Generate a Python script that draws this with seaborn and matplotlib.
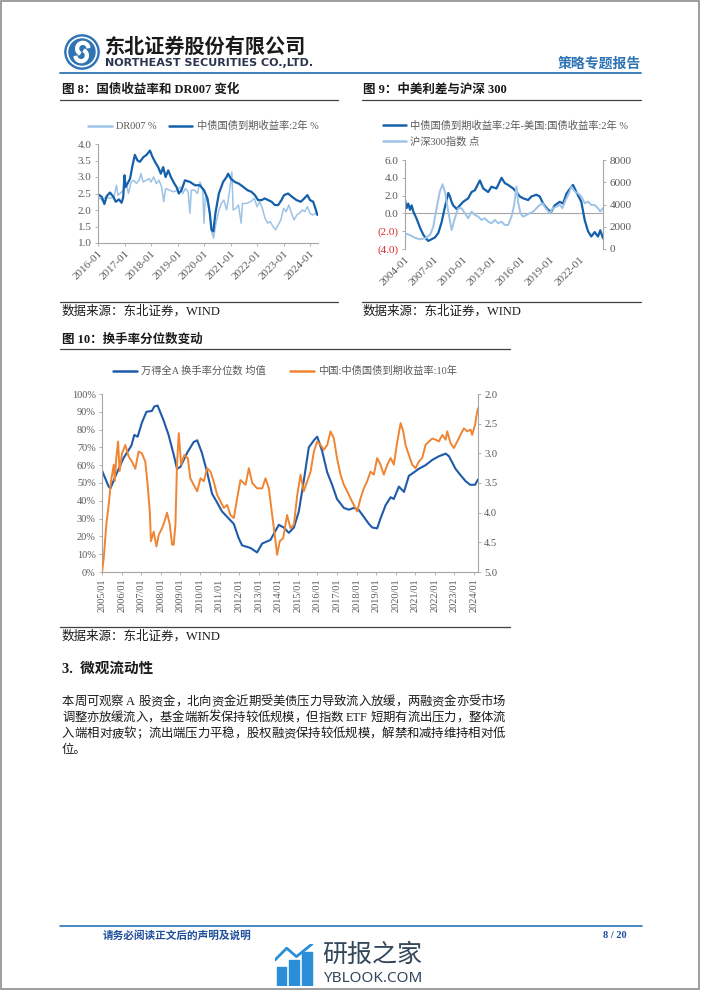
import re
import matplotlib
matplotlib.use("Agg")
import matplotlib.pyplot as plt
import seaborn as sns
from matplotlib.lines import Line2D
from matplotlib.patches import Circle, Rectangle, Wedge

# ---- figure 8: DR007 and 2y CGB yield (%)
dr007_year = [2016.0, 2016.15, 2016.3, 2016.45, 2016.6, 2016.7, 2016.75, 2016.9, 2017.0, 2017.08,
              2017.15, 2017.25, 2017.35, 2017.45, 2017.55, 2017.62, 2017.7, 2017.82, 2017.92, 2018.0,
              2018.1, 2018.2, 2018.3, 2018.4, 2018.48, 2018.55, 2018.7, 2018.85, 2019.0, 2019.1,
              2019.2, 2019.3, 2019.4, 2019.47, 2019.52, 2019.65, 2019.75, 2019.85, 2019.95, 2020.0,
              2020.05, 2020.15, 2020.22, 2020.3, 2020.36, 2020.45, 2020.55, 2020.65, 2020.75, 2020.85,
              2020.95, 2021.05, 2021.1, 2021.2, 2021.3, 2021.4, 2021.45, 2021.6, 2021.75, 2021.9,
              2022.0, 2022.1, 2022.2, 2022.3, 2022.4, 2022.5, 2022.6, 2022.7, 2022.8, 2022.9,
              2023.0, 2023.1, 2023.2, 2023.3, 2023.4, 2023.5, 2023.6, 2023.7, 2023.8, 2023.9,
              2024.0, 2024.1, 2024.2, 2024.28]
dr007_pct = [2.4, 2.3, 2.4, 2.35, 2.4, 2.75, 2.45, 2.55, 2.65, 2.75,
             2.5, 2.85, 2.9, 2.8, 2.9, 3.1, 2.85, 2.9, 2.95, 2.85,
             3.0, 2.8, 2.9, 2.7, 2.25, 2.65, 2.6, 2.55, 2.6, 2.7,
             2.5, 2.65, 2.55, 1.9, 2.6, 2.6, 2.5, 2.85, 2.6, 1.6,
             2.4, 2.2, 1.8, 1.3, 1.15, 1.6, 1.95, 2.2, 2.3, 2.0,
             2.5, 3.15, 2.0, 2.05, 2.15, 1.6, 2.2, 2.2, 2.25, 2.35,
             2.1, 2.25, 2.05, 1.75, 1.6, 1.65, 1.5, 1.4, 1.55, 1.7,
             2.05, 1.95, 2.15, 1.9, 1.7, 1.85, 1.9, 2.0, 1.95, 2.1,
             1.9, 1.85, 1.9, 1.85]
cgb2y_year = [2016.0, 2016.14, 2016.24, 2016.33, 2016.45, 2016.58, 2016.67, 2016.79, 2016.89, 2016.95,
              2017.0, 2017.04, 2017.08, 2017.21, 2017.29, 2017.39, 2017.49, 2017.58, 2017.71, 2017.83,
              2017.96, 2018.05, 2018.15, 2018.27, 2018.37, 2018.46, 2018.55, 2018.65, 2018.75, 2018.88,
              2018.96, 2019.05, 2019.15, 2019.28, 2019.47, 2019.66, 2019.84, 2020.0, 2020.13, 2020.22,
              2020.28, 2020.35, 2020.43, 2020.56, 2020.72, 2020.85, 2020.91, 2021.01, 2021.16, 2021.31,
              2021.48, 2021.64, 2021.79, 2021.92, 2022.04, 2022.17, 2022.29, 2022.42, 2022.55, 2022.67,
              2022.8, 2022.92, 2023.02, 2023.17, 2023.32, 2023.49, 2023.65, 2023.78, 2023.9, 2024.0,
              2024.12, 2024.2, 2024.28]
cgb2y_pct = [2.48, 2.4, 2.18, 2.42, 2.53, 2.4, 2.25, 2.32, 2.22, 2.38,
             3.05, 2.7, 2.75, 2.95, 3.3, 3.67, 3.5, 3.46, 3.6, 3.67,
             3.8, 3.62, 3.46, 3.3, 3.1, 3.3, 3.0, 3.2, 3.0, 2.8,
             2.7, 2.5, 2.6, 2.9, 2.85, 2.75, 2.75, 2.6, 2.35, 1.9,
             1.4, 1.35, 1.9, 2.5, 2.85, 3.0, 3.1, 2.95, 2.85, 2.8,
             2.7, 2.6, 2.55, 2.45, 2.3, 2.3, 2.35, 2.3, 2.25, 2.15,
             2.15, 2.3, 2.45, 2.5, 2.4, 2.3, 2.25, 2.35, 2.45, 2.3,
             2.25, 2.05, 1.85]

# ---- figure 9: China-US 2y spread (%) and CSI 300 (points)
spread_year = [2004.0, 2004.17, 2004.34, 2004.52, 2004.69, 2004.86, 2005.2, 2005.55, 2005.89, 2006.16,
               2006.4, 2006.75, 2007.09, 2007.44, 2007.78, 2008.12, 2008.47, 2008.64, 2008.81, 2008.98,
               2009.33, 2009.67, 2010.01, 2010.53, 2010.87, 2011.22, 2011.73, 2012.08, 2012.59, 2012.93,
               2013.45, 2013.97, 2014.31, 2014.65, 2015.17, 2015.51, 2015.86, 2016.2, 2016.71, 2017.06,
               2017.57, 2017.92, 2018.26, 2018.78, 2019.12, 2019.46, 2019.98, 2020.32, 2020.67, 2021.18,
               2021.35, 2021.7, 2022.21, 2022.56, 2022.9, 2023.24, 2023.59, 2023.93, 2024.17, 2024.45]
spread_pct = [1.5, 0.6, 1.1, 0.4, 0.9, 0.2, -0.6, -1.6, -2.4, -2.8,
              -3.1, -2.9, -2.7, -2.2, -1.0, 0.7, 2.3, 1.9, 1.3, 0.9,
              0.5, 0.9, 1.3, 1.7, 2.4, 2.6, 3.7, 2.8, 2.4, 3.0,
              2.8, 4.0, 3.4, 3.2, 2.8, 2.4, 1.9, 1.7, 1.5, 1.9,
              2.1, 1.9, 1.1, 0.4, 0.2, 0.9, 1.3, 1.1, 2.2, 3.0,
              3.2, 2.4, 1.3, -0.75, -2.0, -2.6, -2.1, -2.6, -1.9, -2.8]
csi300_year = [2004.0, 2004.5, 2005.0, 2005.55, 2006.06, 2006.58, 2006.92, 2007.26, 2007.6, 2007.88,
               2008.12, 2008.47, 2008.81, 2009.15, 2009.5, 2009.84, 2010.19, 2010.53, 2010.87, 2011.22,
               2011.56, 2011.9, 2012.25, 2012.59, 2012.93, 2013.28, 2013.62, 2013.97, 2014.31, 2014.65,
               2015.0, 2015.27, 2015.51, 2015.68, 2015.92, 2016.2, 2016.54, 2016.89, 2017.23, 2017.57,
               2017.92, 2018.19, 2018.54, 2018.95, 2019.29, 2019.64, 2019.98, 2020.25, 2020.6, 2020.94,
               2021.18, 2021.53, 2021.87, 2022.21, 2022.56, 2022.9, 2023.24, 2023.59, 2023.93, 2024.17,
               2024.45]
csi300_pts = [1400, 1260, 1020, 870, 960, 1260, 2000, 3660, 5160, 5820,
              5160, 3360, 1710, 2760, 3660, 3660, 3210, 2760, 3360, 3060,
              2910, 2610, 2760, 2460, 2310, 2610, 2310, 2460, 2160, 2160,
              2910, 3960, 5610, 4260, 3210, 2910, 3060, 3210, 3360, 3660,
              3960, 4110, 3660, 3210, 3660, 3810, 3960, 3660, 4410, 5010,
              5610, 5160, 5010, 4710, 4110, 4260, 3960, 3960, 3660, 3360,
              3660]

# ---- figure 10: turnover percentile (%) and 10y CGB yield (%)
turnover_year = [2005.0, 2005.34, 2005.43, 2005.77, 2006.1, 2006.5, 2006.65, 2006.82, 2007.04, 2007.27,
                 2007.55, 2007.67, 2007.84, 2008.15, 2008.4, 2008.66, 2008.83, 2009.0, 2009.35, 2009.68,
                 2009.86, 2010.1, 2010.37, 2010.62, 2010.88, 2011.13, 2011.39, 2011.73, 2011.98, 2012.15,
                 2012.58, 2012.92, 2013.18, 2013.6, 2014.03, 2014.28, 2014.54, 2014.8, 2015.05, 2015.3,
                 2015.56, 2015.82, 2015.99, 2016.24, 2016.5, 2016.75, 2017.0, 2017.35, 2017.6, 2017.86,
                 2018.1, 2018.37, 2018.63, 2018.8, 2019.05, 2019.22, 2019.48, 2019.74, 2019.9, 2020.16,
                 2020.42, 2020.67, 2020.93, 2021.18, 2021.52, 2021.87, 2022.2, 2022.55, 2022.72, 2023.05,
                 2023.3, 2023.57, 2023.8, 2024.05, 2024.2]
turnover_pct = [57, 48, 47, 56, 64, 71, 77, 76, 84, 90,
                90.5, 93, 93.5, 85, 77, 66, 58, 59, 67, 73,
                74, 67, 56, 44, 39, 34, 31, 27, 19, 15,
                13.5, 11, 16, 18, 26.5, 25, 22, 25, 34, 51,
                70, 74, 76, 68, 56, 49, 41, 36, 35, 36,
                35, 31, 27, 25, 24.5, 30, 37.5, 42, 41, 48,
                45, 54, 56, 58, 60, 63, 65, 66.5, 65, 58,
                54.5, 51, 49, 49, 52]
cgb10y_year = [2005.0, 2005.09, 2005.22, 2005.34, 2005.46, 2005.6, 2005.65, 2005.73, 2005.82, 2005.9,
               2006.02, 2006.19, 2006.36, 2006.53, 2006.7, 2006.87, 2007.04, 2007.21, 2007.33, 2007.44,
               2007.5, 2007.64, 2007.78, 2007.9, 2008.07, 2008.19, 2008.32, 2008.46, 2008.58, 2008.66,
               2008.75, 2008.83, 2008.92, 2009.04, 2009.2, 2009.38, 2009.51, 2009.68, 2009.86, 2010.03,
               2010.2, 2010.37, 2010.54, 2010.7, 2010.88, 2011.05, 2011.22, 2011.39, 2011.56, 2011.73,
               2011.9, 2012.07, 2012.33, 2012.5, 2012.67, 2012.92, 2013.18, 2013.35, 2013.52, 2013.69,
               2013.86, 2013.94, 2014.08, 2014.25, 2014.45, 2014.62, 2014.8, 2014.97, 2015.14, 2015.3,
               2015.48, 2015.65, 2015.82, 2015.99, 2016.16, 2016.33, 2016.5, 2016.67, 2016.84, 2017.0,
               2017.18, 2017.35, 2017.52, 2017.69, 2017.86, 2018.03, 2018.2, 2018.37, 2018.54, 2018.71,
               2018.88, 2019.05, 2019.22, 2019.39, 2019.57, 2019.74, 2019.9, 2020.08, 2020.25, 2020.38,
               2020.5, 2020.67, 2020.84, 2021.01, 2021.18, 2021.35, 2021.52, 2021.7, 2021.87, 2022.04,
               2022.2, 2022.38, 2022.55, 2022.63, 2022.8, 2022.97, 2023.14, 2023.3, 2023.48, 2023.65,
               2023.82, 2023.9, 2024.05, 2024.13, 2024.2]
cgb10y_pct = [5.0, 4.76, 4.2, 3.87, 3.47, 3.19, 3.47, 3.08, 2.8, 3.3,
              3.0, 2.86, 3.05, 3.14, 3.26, 2.97, 3.0, 3.14, 3.53, 3.98,
              4.48, 4.32, 4.57, 4.37, 4.26, 4.15, 4.0, 4.2, 4.54, 4.54,
              4.2, 3.19, 2.66, 3.19, 3.03, 3.08, 3.42, 3.53, 3.64, 3.42,
              3.47, 3.25, 3.31, 3.47, 3.7, 3.81, 3.92, 3.87, 4.04, 4.09,
              3.76, 3.45, 3.53, 3.25, 3.5, 3.59, 3.59, 3.42, 3.59, 4.04,
              4.48, 4.71, 4.48, 4.43, 4.04, 4.26, 4.2, 3.7, 3.36, 3.64,
              3.47, 3.31, 2.97, 2.8, 2.86, 2.94, 2.86, 2.63, 2.75, 3.08,
              3.36, 3.53, 3.64, 3.76, 3.87, 3.98, 3.76, 3.59, 3.47, 3.31,
              3.36, 3.08, 3.19, 3.36, 3.19, 3.08, 3.19, 2.8, 2.49, 2.63,
              2.86, 3.03, 3.19, 3.25, 3.14, 3.08, 2.86, 2.8, 2.75, 2.77,
              2.8, 2.69, 2.77, 2.63, 2.83, 2.91, 2.8, 2.69, 2.58, 2.63,
              2.6, 2.69, 2.52, 2.35, 2.24]

para_lines = [
    "本周可观察 A 股资金，北向资金近期受美债压力导致流入放缓，两融资金亦受市场",
    "调整亦放缓流入，基金端新发保持较低规模，但指数 ETF 短期有流出压力，整体流",
    "入端相对疲软；流出端压力平稳，股权融资保持较低规模，解禁和减持维持相对低",
    "位。",
]

W, H = 702, 991
LIGHT = "#9DC3E6"
DARK = "#1560AA"
BLUE10 = "#1F5BA8"
ORANGE = "#EF8533"
GRAY = "#595959"
AXIS = "#A6A6A6"
RED = "#D42A2A"
INK = "#1A1A1A"
CORP = "#2E74B5"


def rect(x0, y0, x1, y1):
    return [x0 / W, 1 - y1 / H, (x1 - x0) / W, (y1 - y0) / H]


def fx(x):
    return x / W


def fy(y):
    return 1 - y / H


def hline(fig, x0, x1, y, color, lw):
    fig.add_artist(Line2D([fx(x0), fx(x1)], [fy(y), fy(y)], color=color, lw=lw,
                          transform=fig.transFigure))


def style_axis(ax, size=8):
    for s in ax.spines.values():
        s.set_color(AXIS)
        s.set_linewidth(0.8)
    ax.tick_params(colors=GRAY, labelsize=size, length=2.5, width=0.6, pad=2)
    ax.tick_params(color=AXIS)
    ax.set_xlabel("")
    ax.set_ylabel("")


def justify(fig, text, x0, x1, y, size):
    # spread tokens evenly between x0 and x1; latin words get a little air around them
    em = size * 100 / 72
    tokens = re.findall(r"[A-Za-z0-9]+|\S", text)
    r = fig.canvas.get_renderer()
    widths = []
    for tok in tokens:
        if ord(tok[0]) > 0x2E80:
            widths.append(em)
        else:
            t = fig.text(0, 0, tok, fontsize=size)
            widths.append(t.get_window_extent(r).width + 0.5 * em)
            t.remove()
    gap = (x1 - x0 - sum(widths)) / (len(tokens) - 1)
    x = x0
    for tok, w in zip(tokens, widths):
        shift = 0 if ord(tok[0]) > 0x2E80 else 0.25 * em
        fig.text(fx(x + shift), fy(y), tok, fontsize=size, color=INK, va="center")
        x += w + gap


sns.set_theme(style="ticks")
plt.rcParams["font.family"] = ["Liberation Serif", "Noto Sans CJK SC"]
plt.rcParams["axes.unicode_minus"] = False

fig = plt.figure(figsize=(W / 100, H / 100), dpi=100)

# ---------------- header
lax = fig.add_axes(rect(63, 34, 101, 70))
lax.set_xlim(-1.05, 1.05)
lax.set_ylim(-1.05, 1.05)
lax.set_aspect("equal")
lax.axis("off")
lax.add_patch(Circle((0, 0), 1.0, color=CORP))
lax.add_patch(Circle((0, 0), 0.86, color="white"))
lax.add_patch(Circle((0, 0), 0.76, color=CORP))
lax.add_patch(Wedge((0.05, 0.2), 0.42, 10, 240, width=0.17, color="white"))
lax.add_patch(Wedge((-0.05, -0.2), 0.42, 190, 60, width=0.17, color="white"))

fig.text(fx(105), fy(46), "东北证券股份有限公司", fontsize=14.5, weight="bold",
         color=INK, va="center", family="Noto Sans CJK SC")
fig.text(fx(105), fy(63), "NORTHEAST SECURITIES CO.,LTD.", fontsize=8, weight="bold",
         color="#2B3550", va="center", family="DejaVu Sans")
fig.text(fx(641), fy(64), "策略专题报告", fontsize=10, weight="bold", color=CORP,
         va="center", ha="right", family="Noto Sans CJK SC")
hline(fig, 60, 641, 73, CORP, 1.3)

# ---------------- titles
fig.text(fx(62), fy(90), "图 8：国债收益率和 DR007 变化", fontsize=9, weight="bold",
         color=INK, va="center")
hline(fig, 60, 338, 100, "#404040", 0.9)
fig.text(fx(363), fy(90), "图 9：中美利差与沪深 300", fontsize=9, weight="bold",
         color=INK, va="center")
hline(fig, 362, 641, 100, "#404040", 0.9)

# ---------------- figure 8
ax8 = fig.add_axes(rect(98, 144, 318, 243))
sns.lineplot(x=dr007_year, y=dr007_pct, ax=ax8, color=LIGHT, linewidth=1.1)
sns.lineplot(x=cgb2y_year, y=cgb2y_pct, ax=ax8, color=DARK, linewidth=1.6)
ax8.set_xlim(2016.0, 2024.3)
ax8.set_ylim(1.0, 4.0)
ax8.set_yticks([1.0, 1.5, 2.0, 2.5, 3.0, 3.5, 4.0])
ax8.set_yticklabels([f"{v:.1f}" for v in [1.0, 1.5, 2.0, 2.5, 3.0, 3.5, 4.0]])
years8 = list(range(2016, 2025))
ax8.set_xticks(years8)
ax8.set_xticklabels([f"{y}-01" for y in years8], rotation=45, ha="right",
                    rotation_mode="anchor")
sns.despine(ax=ax8)
style_axis(ax8)
h8 = [Line2D([], [], color=LIGHT, lw=1.8), Line2D([], [], color=DARK, lw=1.8)]
leg8 = ax8.legend(h8, ["DR007 %", "中债国债到期收益率:2年 %"], ncol=2, loc="center left",
                  bbox_to_anchor=(-0.045, 1.18), frameon=False, fontsize=7.4,
                  handlelength=2.3, handletextpad=0.4, columnspacing=1.2,
                  borderaxespad=0, borderpad=0)
for t in leg8.get_texts():
    t.set_color(GRAY)

# ---------------- figure 9
ax9 = fig.add_axes(rect(405, 160, 603, 249))
ax9.axhline(0, color=AXIS, lw=0.8, zorder=0)
sns.lineplot(x=spread_year, y=spread_pct, ax=ax9, color=DARK, linewidth=1.6)
ax9.set_xlim(2004.0, 2024.45)
ax9.set_ylim(-4, 6)
ticks9 = [-4, -2, 0, 2, 4, 6]
ax9.set_yticks(ticks9)
ax9.set_yticklabels([f"({abs(v):.1f})" if v < 0 else f"{v:.1f}" for v in ticks9])
years9 = list(range(2004, 2023, 3))
ax9.set_xticks(years9)
ax9.set_xticklabels([f"{y}-01" for y in years9], rotation=45, ha="right",
                    rotation_mode="anchor")
style_axis(ax9)
ax9.tick_params(axis="x", length=0, pad=4)
for side in ["top", "right", "bottom"]:
    ax9.spines[side].set_visible(False)
for lbl in ax9.get_yticklabels():
    if lbl.get_text().startswith("("):
        lbl.set_color(RED)

ax9r = ax9.twinx()
sns.lineplot(x=csi300_year, y=csi300_pts, ax=ax9r, color=LIGHT, linewidth=1.4)
ax9r.set_ylim(0, 8000)
ax9r.set_yticks([0, 2000, 4000, 6000, 8000])
style_axis(ax9r)
for side in ["top", "left", "bottom"]:
    ax9r.spines[side].set_visible(False)
h9 = [Line2D([], [], color=DARK, lw=1.8), Line2D([], [], color=LIGHT, lw=1.8)]
leg9 = ax9.legend(h9, ["中债国债到期收益率:2年-美国:国债收益率:2年 %", "沪深300指数 点"],
                  loc="center left", bbox_to_anchor=(-0.111, 1.30), frameon=False,
                  fontsize=7.4, handlelength=2.2, handletextpad=0.4, labelspacing=0.55,
                  borderaxespad=0, borderpad=0)
for t in leg9.get_texts():
    t.set_color(GRAY)

# ---------------- sources (8, 9)
hline(fig, 60, 338, 302, "#404040", 0.9)
fig.text(fx(62), fy(311), "数据来源：东北证券，WIND", fontsize=9, color=INK, va="center")
hline(fig, 362, 641, 302, "#404040", 0.9)
fig.text(fx(363), fy(311), "数据来源：东北证券，WIND", fontsize=9, color=INK, va="center")

# ---------------- figure 10
fig.text(fx(62), fy(340), "图 10：换手率分位数变动", fontsize=9, weight="bold",
         color=INK, va="center")
hline(fig, 60, 510, 349, "#404040", 0.9)

ax10 = fig.add_axes(rect(102, 394, 478, 572))
sns.lineplot(x=turnover_year, y=turnover_pct, ax=ax10, color=BLUE10, linewidth=1.5)
ax10.set_xlim(2005.0, 2024.2)
ax10.set_ylim(0, 100)
ax10.set_yticks(range(0, 101, 10))
ax10.set_yticklabels([f"{v}%" for v in range(0, 101, 10)])
years10 = list(range(2005, 2025))
ax10.set_xticks(years10)
ax10.set_xticklabels([f"{y}/01" for y in years10], rotation=90)
style_axis(ax10, size=7.4)
for side in ["top", "right"]:
    ax10.spines[side].set_visible(False)

ax10r = ax10.twinx()
sns.lineplot(x=cgb10y_year, y=cgb10y_pct, ax=ax10r, color=ORANGE, linewidth=1.4)
ax10r.set_ylim(5.0, 2.0)
ax10r.set_yticks([2.0, 2.5, 3.0, 3.5, 4.0, 4.5, 5.0])
ax10r.set_yticklabels([f"{v:.1f}" for v in [2.0, 2.5, 3.0, 3.5, 4.0, 4.5, 5.0]])
style_axis(ax10r, size=7.6)
for side in ["top", "left", "bottom"]:
    ax10r.spines[side].set_visible(False)
h10 = [Line2D([], [], color=BLUE10, lw=1.8), Line2D([], [], color=ORANGE, lw=1.8)]
leg10 = ax10.legend(h10, ["万得全A 换手率分位数 均值", "中国:中债国债到期收益率:10年"], ncol=2,
                    loc="center left", bbox_to_anchor=(0.029, 1.129), frameon=False,
                    fontsize=7.4, handlelength=2.3, handletextpad=0.4, columnspacing=2.4,
                    borderaxespad=0, borderpad=0)
for t in leg10.get_texts():
    t.set_color(GRAY)

hline(fig, 60, 510, 627, "#404040", 0.9)
fig.text(fx(62), fy(636), "数据来源：东北证券，WIND", fontsize=9, color=INK, va="center")

# ---------------- body text
fig.text(fx(62), fy(669), "3.  微观流动性", fontsize=10.5, weight="bold", color=INK,
         va="center")
for i, line in enumerate(para_lines):
    y = 702 + 16 * i
    if i < len(para_lines) - 1:
        justify(fig, line, 62, 505, y, 8.9)
    else:
        fig.text(fx(62), fy(y), line, fontsize=8.9, color=INK, va="center")

# ---------------- footer
hline(fig, 60, 642, 926, CORP, 1.2)
fig.text(fx(103), fy(935), "请务必阅读正文后的声明及说明", fontsize=7.7, weight="bold",
         color="#1F4E9A", va="center", family="Noto Sans CJK SC")
fig.text(fx(627), fy(935), "8 / 20", fontsize=7.5, weight="bold", color="#1F4E9A",
         va="center", ha="right")

wax = fig.add_axes(rect(275, 944, 314, 986))
wax.set_xlim(0, 1)
wax.set_ylim(0, 1)
wax.axis("off")
for bx, bh in [(0.04, 0.45), (0.37, 0.62), (0.70, 0.80)]:
    wax.add_patch(Rectangle((bx, 0.0), 0.24, bh, color="#2B8ED8"))
wax.plot([0.0, 0.3, 0.55, 0.95], [0.62, 0.9, 0.7, 1.0], color="#2B8ED8", lw=2)
fig.text(fx(322), fy(955), "研报之家", fontsize=18, color="#33475B", va="center",
         family="Noto Sans CJK SC")
fig.text(fx(323), fy(979), "YBLOOK.COM", fontsize=11, color="#33475B", va="center",
         family="Noto Sans")

# page frame
fig.add_artist(Rectangle((fx(1), fy(989)), fx(698), (988 / H), fill=False,
                         edgecolor="#8C8C8C", lw=1.2, transform=fig.transFigure))

fig.savefig("out.png", dpi=100)
plt.close(fig)
